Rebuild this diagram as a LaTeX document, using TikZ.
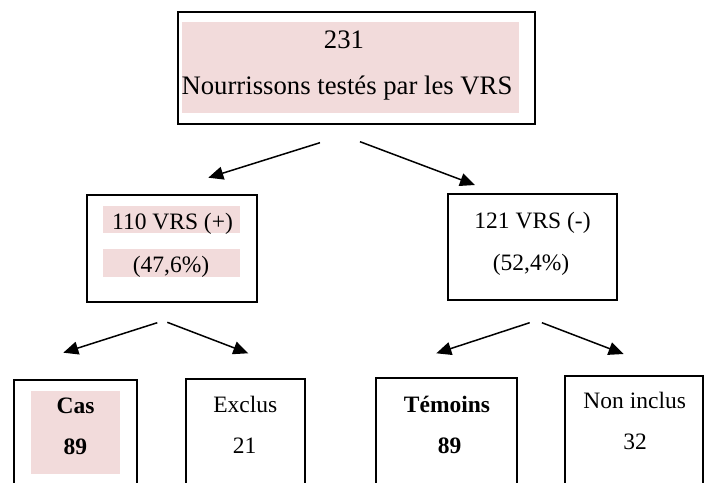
\documentclass[tikz,border=0pt]{standalone}
\usepackage{fontspec}
\setmainfont{Liberation Serif}
\usetikzlibrary{arrows.meta}
\definecolor{pinkfill}{RGB}{242,219,219}
\begin{document}
\begin{tikzpicture}[x=1pt,y=-1pt,
  box/.style={draw=black, line width=2pt, inner sep=0pt},
  shade/.style={fill=pinkfill, draw=none, inner sep=0pt},
  big/.style={font=\fontsize{26.7}{30}\selectfont, anchor=base, inner sep=0pt},
  txt/.style={font=\fontsize{23.5}{26}\selectfont, anchor=base, inner sep=0pt},
  btxt/.style={font=\fontsize{23.5}{26}\selectfont\bfseries, anchor=base, inner sep=0pt},
  arr/.style={line width=1.5pt, -{Triangle[length=15pt,width=13pt]}}]
\useasboundingbox (0,0) rectangle (711,482);
\clip (0,0) rectangle (711,482);
\fill[white] (0,0) rectangle (711,482);

% top box
\node[shade, minimum width=337pt, minimum height=91pt] (topshade) at (350.5,67.5) {};
\node[box, minimum width=357pt, minimum height=112pt] (top) at (356.5,68) {};
\node[big] (t1) at (344,48) {231};
\node[big] (t2) at (347,94) {Nourrissons testés par les VRS};

% middle boxes
\node[shade, minimum width=137.3pt, minimum height=27.3pt] (ls1) at (171.3,219.7) {};
\node[shade, minimum width=137.3pt, minimum height=27.7pt] (ls2) at (171.3,262.8) {};
\node[box, minimum width=170pt, minimum height=106.7pt] (left) at (171.7,248.3) {};
\node[txt] (l1) at (172.5,229.3) {110 VRS (+)};
\node[txt] (l2) at (171,272.7) {(47,6\%)};

\node[box, minimum width=169pt, minimum height=106pt] (right) at (532.2,247) {};
\node[txt] (r1) at (532.5,228.3) {121 VRS (-)};
\node[txt] (r2) at (531,270) {(52,4\%)};

% bottom boxes
\node[shade, minimum width=89pt, minimum height=83pt] (cs) at (75.5,432.5) {};
\node[box, minimum width=122.4pt, minimum height=112pt] (cas) at (75.5,436) {};
\node[btxt] (c1) at (75.5,413.3) {Cas};
\node[btxt] (c2) at (75.3,454) {89};

\node[box, minimum width=119pt, minimum height=113pt] (exc) at (245.2,435.5) {};
\node[txt] (e1) at (245.3,412.3) {Exclus};
\node[txt] (e2) at (244.7,453.3) {21};

\node[box, minimum width=141.3pt, minimum height=113.7pt] (tem) at (446.7,435.2) {};
\node[btxt] (m1) at (447,412.3) {Témoins};
\node[btxt] (m2) at (449.5,453.3) {89};

\node[box, minimum width=138.3pt, minimum height=116pt] (non) at (634.2,434) {};
\node[txt] (n1) at (634.7,408.3) {Non inclus};
\node[txt] (n2) at (635,449.3) {32};

% arrow end points
\coordinate (a1s) at (320,142.7);
\coordinate (a1e) at (208.3,177.7);
\coordinate (a2s) at (360,141.7);
\coordinate (a2e) at (475,185);
\coordinate (b1s) at (157.3,322.7);
\coordinate (b1e) at (63.3,352.7);
\coordinate (b2s) at (167.3,322.3);
\coordinate (b2e) at (248.3,353.3);
\coordinate (b3s) at (529.7,322.7);
\coordinate (b3e) at (436.3,353.3);
\coordinate (b4s) at (541.9,322.7);
\coordinate (b4e) at (623.6,354);

\draw[arr] (a1s) -- (a1e);
\draw[arr] (a2s) -- (a2e);
\draw[arr] (b1s) -- (b1e);
\draw[arr] (b2s) -- (b2e);
\draw[arr] (b3s) -- (b3e);
\draw[arr] (b4s) -- (b4e);
\end{tikzpicture}
\end{document}
